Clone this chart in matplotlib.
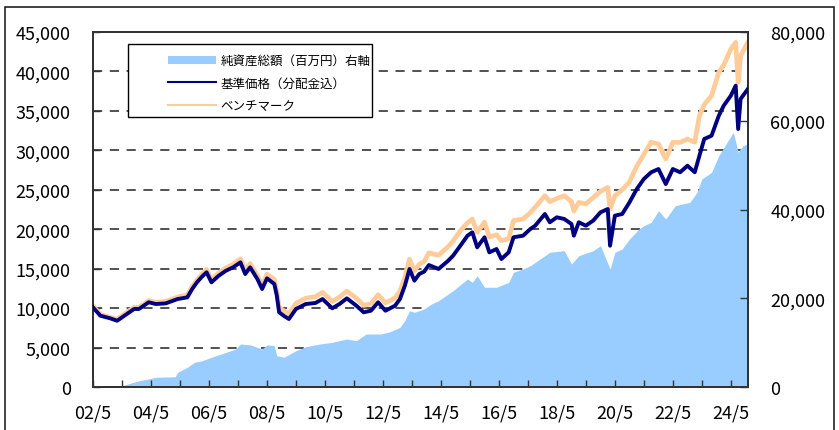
import matplotlib

matplotlib.use("Agg")
import matplotlib.pyplot as plt
import pandas as pd
from matplotlib.patches import Rectangle
from matplotlib.ticker import FuncFormatter

plt.rcParams["font.family"] = ["Noto Sans CJK JP", "DejaVu Sans"]

# 基準価格（分配金込）
nav_dates = [
    "2002-05", "2002-08", "2002-12", "2003-03", "2003-06", "2003-10", "2003-12",
    "2004-04", "2004-07", "2004-11", "2005-04", "2005-08", "2005-10", "2005-12",
    "2006-02", "2006-04", "2006-06", "2006-09", "2006-12", "2007-03", "2007-06",
    "2007-08", "2007-10", "2008-01", "2008-03", "2008-05", "2008-08", "2008-09",
    "2008-10", "2008-12", "2009-02", "2009-05", "2009-09", "2010-01", "2010-04",
    "2010-08", "2010-11", "2011-02", "2011-06", "2011-09", "2011-12", "2012-03",
    "2012-06", "2012-10", "2012-12", "2013-02", "2013-04", "2013-06", "2013-08",
    "2013-10", "2013-12", "2014-04", "2014-08", "2014-10", "2015-01", "2015-04",
    "2015-06", "2015-08", "2015-11", "2016-01", "2016-04", "2016-06", "2016-09",
    "2016-11", "2017-03", "2017-06", "2017-08", "2017-12", "2018-02", "2018-05",
    "2018-08", "2018-11", "2018-12", "2019-02", "2019-05", "2019-08", "2019-11",
    "2020-02", "2020-03", "2020-05", "2020-08", "2020-11", "2021-02", "2021-05",
    "2021-08", "2021-11", "2022-02", "2022-05", "2022-08", "2022-11", "2023-02",
    "2023-04", "2023-06", "2023-09", "2023-12", "2024-02", "2024-05", "2024-07",
    "2024-08", "2024-09", "2024-12",
]
nav_values = [
    10100, 9040, 8710, 8400, 9040, 9890, 9890,
    10740, 10520, 10600, 11150, 11360, 12420, 13270,
    13980, 14540, 13270, 14110, 14740, 15170, 15800,
    14320, 15170, 13690, 12420, 13780, 13060, 11620,
    9470, 9000, 8620, 9890, 10520, 10650, 11150,
    9980, 10520, 11240, 10310, 9470, 9670, 10740,
    9670, 10310, 11150, 12840, 14960, 13480, 14320,
    14620, 15460, 14960, 16010, 16640, 17910, 19180,
    19610, 17710, 18980, 17070, 17490, 16220, 17070,
    18980, 19180, 20030, 20450, 21930, 20880, 21510,
    21300, 20660, 19180, 20880, 20450, 21090, 22140,
    22560, 17910, 21720, 21930, 23410, 25100, 26370,
    27220, 27630, 25730, 27630, 27220, 28050, 27220,
    29320, 31440, 31860, 34390, 35660, 36930, 38200,
    32700, 36510, 37770,
]

# ベンチマーク
bench_dates = nav_dates
bench_values = [
    10300, 9200, 8850, 8600, 9250, 10100, 10100,
    10950, 10750, 10850, 11400, 11650, 12700, 13550,
    14300, 14900, 13600, 14450, 15100, 15550, 16250,
    14800, 15650, 14150, 12900, 14300, 13650, 12200,
    10100, 9650, 9300, 10600, 11250, 11450, 12000,
    10850, 11400, 12150, 11250, 10350, 10550, 11700,
    10650, 11300, 12150, 13900, 16200, 14700, 15550,
    15900, 17000, 16700, 17800, 18500, 19800, 20800,
    21300, 19600, 20900, 19000, 19300, 18550, 18800,
    21100, 21300, 22100, 22800, 24250, 23500, 23900,
    24250, 23500, 22300, 23400, 23200, 24000, 24800,
    25300, 22560, 24250, 25000, 26000, 28000, 29500,
    31020, 30800, 28900, 31020, 31000, 31440, 31020,
    34390, 35800, 36930, 39890, 40800, 42850, 43690,
    38610, 42000, 43690,
]

# 純資産総額（百万円）右軸
assets_dates = [
    "2002-05", "2003-04", "2003-05", "2003-12", "2004-04", "2004-07", "2005-03",
    "2005-04", "2005-08", "2005-11", "2006-02", "2006-06", "2006-12", "2007-04",
    "2007-06", "2007-10", "2008-03", "2008-05", "2008-08", "2008-09", "2008-12",
    "2009-05", "2009-09", "2010-03", "2010-08", "2011-02", "2011-06", "2011-10",
    "2012-04", "2012-08", "2012-12", "2013-02", "2013-04", "2013-06", "2013-10",
    "2014-01", "2014-04", "2014-10", "2015-04", "2015-06", "2015-08", "2015-11",
    "2016-04", "2016-09", "2016-11", "2017-03", "2017-06", "2017-12", "2018-02",
    "2018-08", "2018-11", "2019-02", "2019-08", "2019-11", "2020-03", "2020-05",
    "2020-08", "2020-11", "2021-03", "2021-05", "2021-08", "2021-11", "2022-02",
    "2022-06", "2022-12", "2023-03", "2023-05", "2023-09", "2023-12", "2024-03",
    "2024-06", "2024-08", "2024-10", "2024-12",
]
assets_values = [
    0, 0, 300, 1400, 1800, 2200, 2300,
    3300, 4440, 5570, 5900, 6700, 7800, 8560,
    9690, 9500, 8560, 9500, 9300, 7050, 6690,
    8180, 9080, 9690, 10070, 10820, 10430, 11940,
    11940, 12460, 13450, 15000, 17190, 16830, 17580,
    18700, 19450, 21700, 24340, 23590, 25080, 22470,
    22470, 23590, 25850, 26590, 27330, 29590, 30350,
    30720, 27720, 29590, 30720, 31840, 26590, 30350,
    31100, 33350, 35600, 36350, 37110, 39730, 37860,
    40860, 41620, 43870, 46870, 48380, 52120, 54760,
    57400, 52890, 54380, 54760,
]

left_ticks = [0, 5000, 10000, 15000, 20000, 25000, 30000, 35000, 40000, 45000]
right_ticks = [0, 20000, 40000, 60000, 80000]
legend_labels = ["純資産総額（百万円）右軸", "基準価格（分配金込）", "ベンチマーク"]

YELLOW = "#FFFFCC"
BLUE = "#99CCFF"
NAVY = "#000080"
PEACH = "#FFCC99"

nav_x = pd.to_datetime(nav_dates)
bench_x = pd.to_datetime(bench_dates)
assets_x = pd.to_datetime(assets_dates)

fig = plt.figure(figsize=(8.39, 4.31), dpi=100)
ax = fig.add_axes([93 / 839, 1 - 388 / 431, 655 / 839, 355 / 431])
ax2 = ax.twinx()
ax.set_zorder(ax2.get_zorder() + 1)
ax.patch.set_visible(False)
ax2.patch.set_facecolor(YELLOW)

left_max = left_ticks[-1]
right_max = right_ticks[-1]
ax.set_ylim(0, left_max)
ax2.set_ylim(0, right_max)
ax.set_xlim(pd.Timestamp("2002-05-01"), pd.Timestamp("2024-12-03"))

# dashed grid at the left-axis ticks, kept behind the area fill
for v in left_ticks[1:-1]:
    ax2.axhline(v * right_max / left_max, color="#222222", lw=1.1,
                ls=(0, (6, 5)), zorder=0.5)
ax2.fill_between(assets_x, assets_values, 0, color=BLUE, lw=0, zorder=1)

ax.plot(bench_x, bench_values, color=PEACH, lw=3.4, zorder=2)
ax.plot(nav_x, nav_values, color=NAVY, lw=2.8, zorder=3)

thousands = FuncFormatter(lambda v, p: f"{int(v):,}")
ax.set_yticks(left_ticks)
ax.yaxis.set_major_formatter(thousands)
ax2.set_yticks(right_ticks)
ax2.yaxis.set_major_formatter(thousands)

years = pd.date_range("2002-05-01", "2024-05-01", freq="12MS")
ax.set_xticks(years)
ax.set_xticklabels([d.strftime("%y/") + str(d.month) if d.year % 2 == 0 else ""
                    for d in years])

ax.tick_params(axis="x", direction="in", length=5, width=1, labelsize=13,
               pad=12, color="#333333")
ax.tick_params(axis="y", direction="in", length=5, width=1, labelsize=13,
               pad=16, color="#333333")
ax2.tick_params(axis="y", direction="in", length=6, width=1, labelsize=13,
                pad=16, color="#333333")

for a in (ax, ax2):
    for s in a.spines.values():
        s.set_color("#333333")
        s.set_linewidth(1.4)

# legend box
box = Rectangle(((128 - 93) / 655, (388 - 118) / 355), 244 / 655, 73 / 355,
                transform=ax.transAxes, facecolor="white", edgecolor="black",
                lw=1.0, zorder=4)
ax.add_patch(box)
handles = [
    Rectangle((0, 0), 1, 1, facecolor=BLUE, edgecolor="none"),
    plt.Line2D([], [], color=NAVY, lw=1.5),
    plt.Line2D([], [], color=PEACH, lw=1.5),
]
leg = ax.legend(handles, legend_labels, loc="upper left",
                bbox_to_anchor=((158 - 93) / 655, (388 - 45) / 355),
                frameon=False, fontsize=9, handlelength=3.8, handleheight=0.6,
                handletextpad=0.4, labelspacing=0.75, borderpad=0.3)
leg.set_zorder(5)

# outer frame of the picture
fig.patches.append(Rectangle((5 / 839, -0.05), 829 / 839, 1.05 - 8 / 431,
                             transform=fig.transFigure, fill=False,
                             edgecolor="#222222", lw=1.2))

fig.savefig("out.png", dpi=100, facecolor="white")
